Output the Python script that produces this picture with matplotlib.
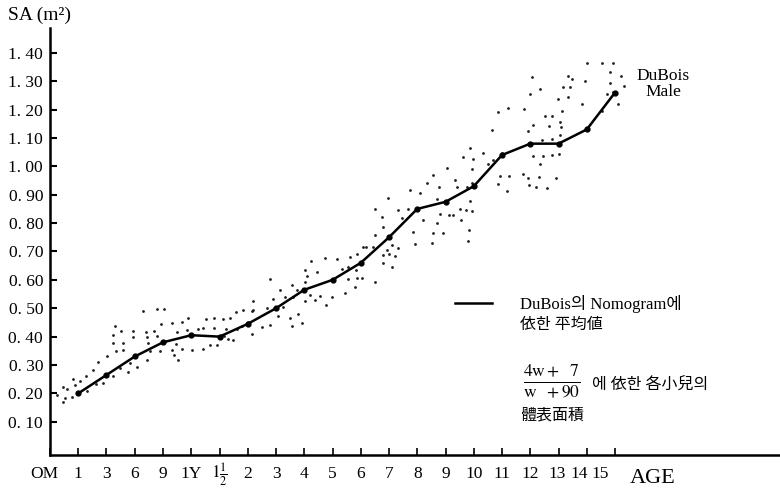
import matplotlib
matplotlib.use("Agg")
import matplotlib.pyplot as plt
from matplotlib.lines import Line2D

plt.rcParams['font.family'] = ['Liberation Serif', 'Noto Sans CJK KR']
plt.rcParams['mathtext.fontset'] = 'stix'

# x axis categories (one tick per age step)
age_labels = ['OM', '1', '3', '6', '9', '1Y', r'$1\frac{1}{2}$', '2', '3', '4', '5', '6', '7',
              '8', '9', '10', '11', '12', '13', '14', '15']
label_pos = [-0.2, 1, 2, 3, 4, 5, 6, 7, 8, 9, 10, 11, 12, 13, 14, 15, 16, 17, 17.95, 18.73, 19.47]
y_ticks = [0.10, 0.20, 0.30, 0.40, 0.50, 0.60, 0.70, 0.80, 0.90, 1.00, 1.10, 1.20, 1.30, 1.40]

# DuBois nomogram mean (1 month .. 15 years)
mean_age = [1, 2, 3, 4, 5, 6, 7, 8, 9, 10, 11, 12, 13, 14, 15, 16, 17, 18, 19, 20]
mean_sa = [0.20, 0.265, 0.33, 0.38, 0.405, 0.40, 0.445, 0.50, 0.565, 0.60, 0.66, 0.75,
           0.85, 0.875, 0.93, 1.04, 1.08, 1.08, 1.13, 1.26]

# individual children, (4w+7)/(w+90)
dot_age = [
    0.26, 0.53, 0.77, 0.45, 0.47, 0.61, 0.82, 0.88, 1.06, 1.32, 1.27, 1.63, 1.89, 1.53, 2.22,
    1.71, 2.01, 2.48, 2.77, 2.83, 3.09, 2.34, 2.57, 2.24, 2.24, 2.57, 2.30, 2.51, 2.93, 2.95,
    3.42, 3.54, 3.89, 3.44, 3.48, 3.78, 3.40, 3.68, 3.92, 3.28, 3.78, 4.05, 4.39, 4.54, 4.31,
    4.46, 4.66, 4.48, 4.33, 4.66, 4.86, 4.90, 5.02, 5.41, 5.23, 5.41, 5.52, 5.66, 5.90, 5.82,
    5.81, 6.13, 6.16, 6.23, 6.31, 6.47, 6.37, 6.61, 6.58, 6.79, 6.82, 7.02, 7.14, 7.18,
    7.14, 7.20, 7.49, 7.67, 7.79, 7.90, 7.79, 8.08, 8.26, 8.50, 8.58, 8.79, 8.91, 8.14, 8.32,
    8.61, 8.58, 8.73, 9.03, 9.11, 9.03, 9.20, 9.38, 9.56, 9.77, 9.97, 9.24, 9.03, 9.44, 9.73,
    10.17, 10.33, 10.44, 10.56, 10.56, 10.62, 10.80, 10.83, 10.86, 10.86, 11.03, 11.07, 11.19,
    11.44, 11.50, 11.50, 11.80, 11.80, 11.92, 12.01, 12.10, 12.10, 12.21, 12.31, 11.50, 11.74,
    11.80, 11.98, 12.31, 12.45, 12.68, 12.74, 12.86, 12.92, 13.10, 13.21, 13.33, 13.51,
    13.57, 13.69, 13.69, 13.78, 13.81, 13.92, 13.57, 14.04, 14.13, 14.28, 14.34, 14.40, 14.51,
    14.55, 14.63, 14.73, 14.75, 14.81, 14.84, 14.87, 14.87, 14.93, 14.93, 14.93, 14.98, 15.34,
    15.52, 15.64, 15.69, 15.87, 15.87, 15.93, 15.99, 16.19, 16.22, 16.26, 16.73, 16.79, 16.93,
    16.93, 16.97, 16.99, 17.05, 17.11, 17.11, 17.20, 17.32, 17.35, 17.35, 17.41, 17.46, 17.52,
    17.58, 17.67, 17.76, 17.76, 17.78, 17.90, 17.99, 18.02, 18.05, 18.05, 18.09, 18.13, 18.17,
    18.35, 18.35, 18.41, 18.47, 18.82, 18.94, 19.00, 19.53, 19.53, 19.71, 19.82, 19.82, 19.92,
    19.93, 20.12, 20.20, 20.32,
]
dot_sa = [
    0.195, 0.183, 0.187, 0.168, 0.222, 0.215, 0.250, 0.230, 0.242, 0.207, 0.260, 0.234, 0.236,
    0.283, 0.260, 0.309, 0.330, 0.289, 0.274, 0.307, 0.293, 0.351, 0.354, 0.406, 0.379, 0.379,
    0.438, 0.420, 0.397, 0.420, 0.316, 0.348, 0.348, 0.400, 0.377, 0.403, 0.418, 0.420, 0.445,
    0.491, 0.498, 0.498, 0.336, 0.318, 0.354, 0.375, 0.356, 0.416, 0.448, 0.451, 0.424, 0.465,
    0.354, 0.356, 0.426, 0.430, 0.462, 0.371, 0.371, 0.430, 0.467, 0.462, 0.403, 0.426, 0.391,
    0.389, 0.465, 0.426, 0.486, 0.438, 0.494, 0.453, 0.410, 0.494,
    0.492, 0.524, 0.433, 0.500, 0.442, 0.532, 0.602, 0.471, 0.506, 0.465, 0.436, 0.480, 0.448,
    0.565, 0.541, 0.541, 0.582, 0.565, 0.524, 0.614, 0.594, 0.547, 0.530, 0.544, 0.512, 0.541,
    0.667, 0.635, 0.629, 0.676, 0.673, 0.638, 0.555, 0.602, 0.647, 0.680, 0.576, 0.635, 0.606,
    0.692, 0.606, 0.717, 0.715, 0.717, 0.758, 0.592, 0.659, 0.688, 0.705, 0.690, 0.647, 0.723,
    0.685, 0.712, 0.849, 0.823, 0.786, 0.890, 0.846, 0.817, 0.849, 0.917, 0.770, 0.727, 0.905,
    0.811, 0.940, 0.731, 0.764, 0.884, 0.800, 0.929, 0.832, 0.764, 0.970, 0.993, 0.829, 0.829,
    0.952, 0.929, 0.849, 0.811, 1.032, 0.846, 0.929, 0.738, 0.774, 1.066, 0.879, 0.990, 0.943,
    0.844, 1.025, 1.048, 1.008, 1.128, 1.023, 1.190, 0.938, 0.966, 1.048, 0.914, 1.205, 0.966,
    0.972, 1.201, 1.126, 0.960, 0.935, 1.255, 1.314, 1.146, 1.037, 0.926, 0.964, 1.271, 1.008,
    1.093, 1.037, 1.177, 0.923, 1.142, 1.177, 1.040, 1.095, 0.960, 1.236, 1.043, 1.157, 1.111,
    1.138, 1.196, 1.281, 1.318, 1.245, 1.281, 1.307, 1.220, 1.302, 1.363, 1.363, 1.196, 1.255,
    1.333, 1.295, 1.263, 1.363, 1.220, 1.318, 1.283,
]

fig = plt.figure(figsize=(7.8, 4.94), dpi=100)
ax = fig.add_axes([0.0641, 0.079, 0.9359, 0.864])

ax.scatter(dot_age, dot_sa, s=4, marker='o', color='#1e1e1e', linewidths=0)
ax.plot(mean_age, mean_sa, color='black', lw=1.8, marker='o', ms=3.5)

ax.set_xlim(0, 25.84)
ax.set_ylim(-0.017, 1.487)

for s in ['top', 'right']:
    ax.spines[s].set_visible(False)
for s in ['left', 'bottom']:
    ax.spines[s].set_linewidth(1.8)

ax.set_yticks(y_ticks)
ax.set_yticklabels(['{:.2f}'.format(v).replace('.', '. ') for v in y_ticks])
ax.tick_params(axis='y', direction='in', length=5, width=1.5, pad=5, labelsize=12.5)

ax.set_xticks(range(21))
ax.set_xticklabels([])
ax.tick_params(axis='x', direction='in', length=5, width=1.2)
for pos, lab in zip(label_pos, age_labels):
    ax.text(pos, -0.085, lab, ha='center', va='center', fontsize=12.5, clip_on=False)

fig.text(0.01, 0.968, 'SA (m²)', fontsize=14, va='center', ha='left')
fig.text(0.808, 0.032, 'AGE', fontsize=16, va='center', ha='left')
fig.text(0.85, 0.83, 'DuBois\nMale', fontsize=12.5, va='center', ha='center',
         multialignment='center', linespacing=1.05)

# legend
fig.add_artist(Line2D([0.583, 0.631], [0.387, 0.387], color='black', lw=1.8))
fig.text(0.667, 0.385, 'DuBois의 Nomogram에', fontsize=12, va='center', ha='left')
fig.text(0.667, 0.342, '依한 平均値', fontsize=11.5, va='center', ha='left')
fig.text(0.708, 0.23, r'$\frac{4\mathrm{w}+\ \ 7}{\mathrm{w}\ \ +90}$', fontsize=18,
         va='center', ha='center')
fig.text(0.759, 0.219, '에 依한 各小兒의', fontsize=11.5, va='center', ha='left')
fig.text(0.667, 0.158, '體表面積', fontsize=11.5, va='center', ha='left')

fig.savefig('out.png', dpi=100, facecolor='white')
